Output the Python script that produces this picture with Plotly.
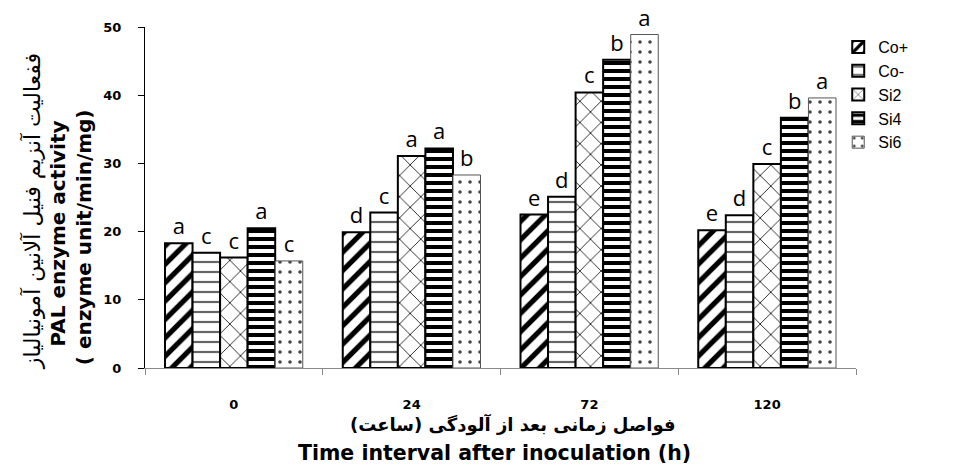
import plotly.graph_objects as go

categories = ["0", "24", "72", "120"]
series_names = ["Co+", "Co-", "Si2", "Si4", "Si6"]
co_pos = [18.3, 19.9, 22.5, 20.2]
co_neg = [16.9, 22.8, 25.1, 22.4]
si2 = [16.2, 31.1, 40.4, 29.9]
si4 = [20.5, 32.2, 45.2, 36.7]
si6 = [15.7, 28.3, 48.9, 39.6]
letters_co_pos = ["a", "d", "e", "e"]
letters_co_neg = ["c", "c", "d", "d"]
letters_si2 = ["c", "a", "c", "c"]
letters_si4 = ["a", "a", "b", "b"]
letters_si6 = ["c", "b", "a", "a"]
y_ticks = [0, 10, 20, 30, 40, 50]

values = [co_pos, co_neg, si2, si4, si6]
letters = [letters_co_pos, letters_co_neg, letters_si2, letters_si4, letters_si6]

patterns = [
    dict(shape="/", fgcolor="black", bgcolor="white", size=13, solidity=0.4),
    dict(shape="-", fgcolor="#666666", bgcolor="white", size=10, solidity=0.22),
    dict(shape="x", fgcolor="#222222", bgcolor="white", size=15, solidity=0.12),
    dict(shape="-", fgcolor="black", bgcolor="white", size=8, solidity=0.5),
    dict(shape=".", fgcolor="#444444", bgcolor="white", size=10, solidity=0.1),
]
line_w = [2, 2, 2, 2, 1]
line_c = ["black", "black", "black", "black", "#555555"]

fig = go.Figure()
for name, vals, lets, pat, lw, lc in zip(series_names, values, letters, patterns, line_w, line_c):
    pat = dict(pat, fillmode="replace", fgopacity=1)
    fig.add_trace(go.Bar(
        name=name, x=categories, y=vals, text=lets,
        textposition="outside", cliponaxis=False,
        textfont=dict(family="Open Sans, DejaVu Sans", size=22, color="black"),
        marker=dict(color="white", pattern=pat, line=dict(color=lc, width=lw)),
    ))

fig.update_layout(
    width=945, height=467,
    margin=dict(l=137, r=97, t=16, b=107),
    paper_bgcolor="white", plot_bgcolor="white",
    barmode="group", bargap=0.225, bargroupgap=0,
    font=dict(family="DejaVu Sans", color="black"),
    legend=dict(x=0.975, xanchor="left", y=0.991, yanchor="top",
                font=dict(family="Liberation Sans, Arial", size=16, color="black"),
                itemwidth=30, tracegroupgap=0, bgcolor="rgba(0,0,0,0)"),
    showlegend=True,
)
fig.update_xaxes(
    type="category", showline=True, linecolor="#888888", linewidth=1,
    ticks="outside", tickson="boundaries", ticklen=6, tickcolor="#888888",
    ticklabelstandoff=24,
    tickfont=dict(family="DejaVu Sans", size=13, weight="bold", color="black"),
    showgrid=False, zeroline=False,
)
fig.update_yaxes(
    range=[0, 50], tickvals=y_ticks, showline=True, linecolor="black", linewidth=1,
    ticks="outside", ticklen=6, tickcolor="black", ticklabelstandoff=14,
    tickfont=dict(family="DejaVu Sans", size=13, weight="bold", color="black"),
    showgrid=False, zeroline=False,
)

# Axis titles
fig.add_annotation(text="ففعالیت آنزیم فنیل آلانین آمونیالیاز", xref="paper", yref="paper",
                   x=-0.158, y=0.459, xanchor="center", yanchor="middle",
                   textangle=-90, showarrow=False,
                   font=dict(family="DejaVu Sans", size=22, color="black"))
fig.add_annotation(text="<b>PAL enzyme activity</b>", xref="paper", yref="paper",
                   x=-0.122, y=0.395, xanchor="center", yanchor="middle",
                   textangle=-90, showarrow=False,
                   font=dict(family="DejaVu Sans", size=20, color="black"))
fig.add_annotation(text="<b>( enzyme unit/min/mg)</b>", xref="paper", yref="paper",
                   x=-0.0856, y=0.384, xanchor="center", yanchor="middle",
                   textangle=-90, showarrow=False,
                   font=dict(family="DejaVu Sans", size=20, color="black"))
fig.add_annotation(text="<b>فواصل زمانی بعد از آلودگی (ساعت)</b>", xref="paper", yref="paper",
                   x=0.518, y=-0.166, xanchor="center", yanchor="middle", showarrow=False,
                   font=dict(family="DejaVu Sans", size=18, color="black"))
fig.add_annotation(text="<b>Time interval after inoculation (h)</b>", xref="paper", yref="paper",
                   x=0.492, y=-0.25, xanchor="center", yanchor="middle", showarrow=False,
                   font=dict(family="DejaVu Sans", size=20.5, color="black"))

fig.write_html("out.html")
